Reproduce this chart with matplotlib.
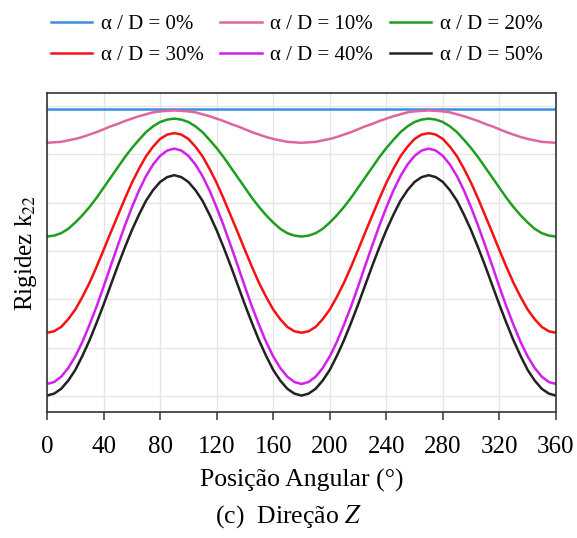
import matplotlib
matplotlib.use("Agg")
import matplotlib.pyplot as plt
import numpy as np

plt.rcParams['font.family'] = ['Liberation Serif', 'DejaVu Serif']
plt.rcParams['mathtext.fontset'] = 'stix'

angles = list(range(0, 361, 5))
x_ticks = [0, 40, 80, 120, 160, 200, 240, 280, 320, 360]

labels = ["α / D = 0%", "α / D = 10%", "α / D = 20%",
          "α / D = 30%", "α / D = 40%", "α / D = 50%"]
colors = ["#3b8fe3", "#e0659e", "#1e9e1e", "#f51212", "#d41ef0", "#222222"]

k_0 = [5.93] * 73

k_10 = [5.24, 5.25, 5.26, 5.29, 5.32, 5.36, 5.41, 5.46, 5.52, 5.58, 5.63, 5.69, 5.74, 5.79, 5.83, 5.87, 5.89, 5.90, 5.91,
        5.90, 5.89, 5.87, 5.83, 5.79, 5.74, 5.69, 5.63, 5.58, 5.52, 5.46, 5.41, 5.36, 5.32, 5.29, 5.26, 5.25, 5.24,
        5.25, 5.26, 5.29, 5.32, 5.36, 5.41, 5.46, 5.52, 5.58, 5.63, 5.69, 5.74, 5.79, 5.83, 5.87, 5.89, 5.90, 5.91,
        5.90, 5.89, 5.87, 5.83, 5.79, 5.74, 5.69, 5.63, 5.58, 5.52, 5.46, 5.41, 5.36, 5.32, 5.29, 5.26, 5.25, 5.24]

k_20 = [3.30, 3.32, 3.37, 3.46, 3.59, 3.74, 3.91, 4.10, 4.31, 4.52, 4.73, 4.94, 5.13, 5.30, 5.46, 5.58, 5.67, 5.72, 5.74,
        5.72, 5.67, 5.58, 5.46, 5.30, 5.13, 4.94, 4.73, 4.52, 4.31, 4.10, 3.91, 3.74, 3.59, 3.46, 3.37, 3.32, 3.30,
        3.32, 3.37, 3.46, 3.59, 3.74, 3.91, 4.10, 4.31, 4.52, 4.73, 4.94, 5.13, 5.30, 5.46, 5.58, 5.67, 5.72, 5.74,
        5.72, 5.67, 5.58, 5.46, 5.30, 5.13, 4.94, 4.73, 4.52, 4.31, 4.10, 3.91, 3.74, 3.59, 3.46, 3.37, 3.32, 3.30]

k_30 = [1.31, 1.34, 1.43, 1.59, 1.79, 2.05, 2.34, 2.67, 3.02, 3.38, 3.73, 4.08, 4.41, 4.70, 4.96, 5.16, 5.32, 5.41, 5.44,
        5.41, 5.32, 5.16, 4.96, 4.70, 4.41, 4.08, 3.73, 3.38, 3.02, 2.67, 2.34, 2.05, 1.79, 1.59, 1.43, 1.34, 1.31,
        1.34, 1.43, 1.59, 1.79, 2.05, 2.34, 2.67, 3.02, 3.38, 3.73, 4.08, 4.41, 4.70, 4.96, 5.16, 5.32, 5.41, 5.44,
        5.41, 5.32, 5.16, 4.96, 4.70, 4.41, 4.08, 3.73, 3.38, 3.02, 2.67, 2.34, 2.05, 1.79, 1.59, 1.43, 1.34, 1.31]

k_40 = [0.25, 0.29, 0.40, 0.58, 0.82, 1.12, 1.47, 1.85, 2.26, 2.69, 3.11, 3.52, 3.90, 4.25, 4.55, 4.79, 4.97, 5.08, 5.12,
        5.08, 4.97, 4.79, 4.55, 4.25, 3.90, 3.52, 3.11, 2.69, 2.26, 1.85, 1.47, 1.12, 0.82, 0.58, 0.40, 0.29, 0.25,
        0.29, 0.40, 0.58, 0.82, 1.12, 1.47, 1.85, 2.26, 2.69, 3.11, 3.52, 3.90, 4.25, 4.55, 4.79, 4.97, 5.08, 5.12,
        5.08, 4.97, 4.79, 4.55, 4.25, 3.90, 3.52, 3.11, 2.69, 2.26, 1.85, 1.47, 1.12, 0.82, 0.58, 0.40, 0.29, 0.25]

k_50 = [0.01, 0.05, 0.15, 0.32, 0.54, 0.83, 1.15, 1.51, 1.89, 2.29, 2.69, 3.07, 3.43, 3.75, 4.04, 4.26, 4.43, 4.53, 4.57,
        4.53, 4.43, 4.26, 4.04, 3.75, 3.43, 3.07, 2.69, 2.29, 1.89, 1.51, 1.15, 0.83, 0.54, 0.32, 0.15, 0.05, 0.01,
        0.05, 0.15, 0.32, 0.54, 0.83, 1.15, 1.51, 1.89, 2.29, 2.69, 3.07, 3.43, 3.75, 4.04, 4.26, 4.43, 4.53, 4.57,
        4.53, 4.43, 4.26, 4.04, 3.75, 3.43, 3.07, 2.69, 2.29, 1.89, 1.51, 1.15, 0.83, 0.54, 0.32, 0.15, 0.05, 0.01]

series = [k_0, k_10, k_20, k_30, k_40, k_50]

fig = plt.figure(figsize=(5.77, 5.38), dpi=100)
ax = fig.add_axes([0.0815, 0.2342, 0.882, 0.5929])

handles = []
for vals, lab, c in zip(series, labels, colors):
    h, = ax.plot(angles, vals, color=c, lw=1.8, label=lab)
    handles.append(h)

ax.set_xlim(0, 360)
ax.set_ylim(-0.33, 6.27)
ax.set_xticks(x_ticks)
ax.set_yticks([0, 1, 2, 3, 4, 5, 6])
ax.grid(True, color="#e6e6e6", lw=1.0)
ax.set_axisbelow(True)
ax.tick_params(axis='y', length=0, labelleft=False)
ax.tick_params(axis='x', length=6, width=1.1, color="#333333", labelsize=18, pad=11)
for s in ax.spines.values():
    s.set_color("#333333")
    s.set_linewidth(1.2)

ax.set_xlabel("Posição Angular (°)", fontsize=18.5, labelpad=8)
ax.set_ylabel("Rigidez k$_{22}$", fontsize=18, labelpad=6)

order = [0, 3, 1, 4, 2, 5]
fig.legend([handles[i] for i in order], [labels[i] for i in order],
           loc='upper center', bbox_to_anchor=(0.514, 1.008), ncol=3, frameon=False,
           fontsize=15, handlelength=2.0, handletextpad=0.4, columnspacing=0.8,
           labelspacing=0.55)

fig.text(0.5, 0.039, "(c)  Direção $Z$", ha='center', va='center', fontsize=18.5)

fig.savefig("out.png", dpi=100)
